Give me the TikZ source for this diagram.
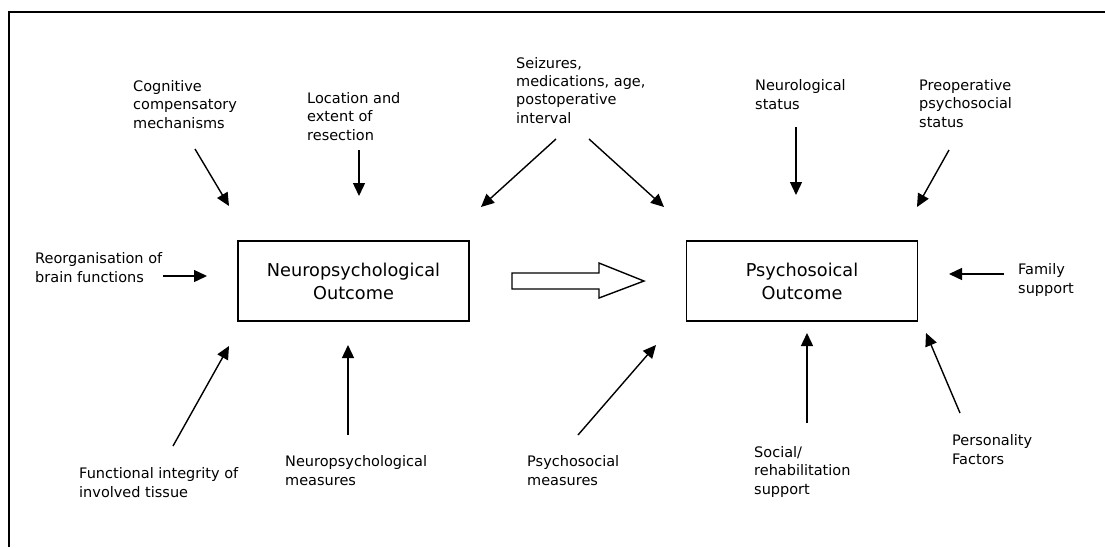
\documentclass[tikz,border=0pt]{standalone}
\usepackage{fontspec}
\setmainfont{DejaVu Sans}
\usetikzlibrary{arrows.meta}
\begin{document}
\begin{tikzpicture}[x=1pt,y=-1pt,
  lab/.style={anchor=base west, align=left, inner sep=0pt, font=\fontsize{14.5}{18.3}\selectfont},
  outbox/.style={draw, line width=1.5pt, minimum width=231pt, minimum height=80pt, align=center, inner sep=0pt, font=\fontsize{17.7}{23}\selectfont},
  arr/.style={line width=1.4pt, -{Triangle[length=13pt,width=12pt]}},
  framel/.style={line width=1.3pt},
  hollow/.style={line width=1.4pt, fill=white}]
\useasboundingbox (0,0) rectangle (1105,547);
% frame (only top and left edges visible)
\coordinate (fTL) at (9,12);
\coordinate (fTR) at (1105,12);
\coordinate (fBL) at (9,547);
\draw[framel] (fBL) -- (fTL) -- (fTR);

% outcome boxes
\node[outbox] (neuro) at (353.5,281) {Neuropsychological\\Outcome};
\node[outbox] (psycho) at (802,281) {Psychosoical\\Outcome};

% big hollow arrow
\draw[hollow] (512,273) -- (599,273) -- (599,263) -- (644,281) -- (599,298) -- (599,289) -- (512,289) -- cycle;

% labels (anchored at the baseline of the last line)
\node[lab] (cog) at (133,128) {Cognitive\\compensatory\\mechanisms};
\node[lab] (loc) at (307,140) {Location and\\extent of\\resection};
\node[lab] (seiz) at (516,123) {Seizures,\\medications, age,\\postoperative\\interval};
\node[lab] (neurol) at (755,109) {Neurological\\status};
\node[lab] (preop) at (919,127) {Preoperative\\psychosocial\\status};
\node[lab] (reorg) at (35,282) {Reorganisation of\\brain functions};
\node[lab] (family) at (1018,293) {Family\\support};
\node[lab] (func) at (79,497) {Functional integrity of\\involved tissue};
\node[lab] (npm) at (285,485) {Neuropsychological\\measures};
\node[lab] (psm) at (527,485) {Psychosocial\\measures};
\node[lab] (social) at (754,494) {Social/\\rehabilitation\\support};
\node[lab] (pers) at (952,464) {Personality\\Factors};

% arrow end points
\coordinate (cogS) at (195,149);   \coordinate (cogE) at (229,206);
\coordinate (locS) at (359,150);   \coordinate (locE) at (359,196);
\coordinate (seizLS) at (556,139); \coordinate (seizLE) at (481,207);
\coordinate (seizRS) at (589,139); \coordinate (seizRE) at (664,207);
\coordinate (neurolS) at (796,127);\coordinate (neurolE) at (796,195);
\coordinate (preopS) at (949,150); \coordinate (preopE) at (917,207);
\coordinate (reorgS) at (163,276); \coordinate (reorgE) at (207,276);
\coordinate (familyS) at (1004,274);\coordinate (familyE) at (949,274);
\coordinate (funcS) at (173,446);  \coordinate (funcE) at (229,346);
\coordinate (npmS) at (348,435);   \coordinate (npmE) at (348,345);
\coordinate (psmS) at (578,435);   \coordinate (psmE) at (656,345);
\coordinate (socialS) at (807,423);\coordinate (socialE) at (807,333);
\coordinate (persS) at (960,413);  \coordinate (persE) at (926,333);

\foreach \a in {cog,loc,seizL,seizR,neurol,preop,reorg,family,func,npm,psm,social,pers}
  \draw[arr] (\a S) -- (\a E);
\end{tikzpicture}
\end{document}
